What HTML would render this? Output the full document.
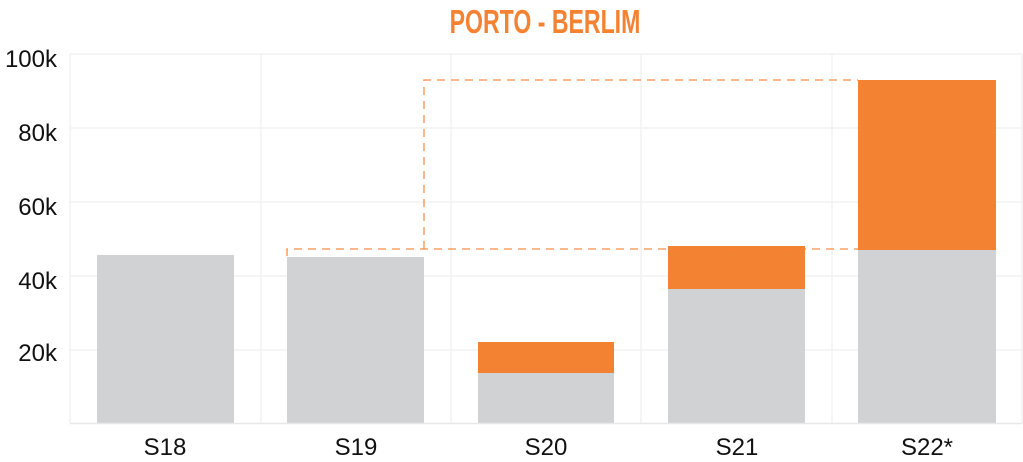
<!DOCTYPE html>
<html><head><style>
html,body{margin:0;padding:0;background:#fff;}
svg{display:block;}
text{font-family:"Liberation Sans",sans-serif;}
</style></head><body>
<svg width="1023" height="462" viewBox="0 0 1023 462" xmlns="http://www.w3.org/2000/svg">
<text x="545" y="33" text-anchor="middle" font-size="33" font-weight="bold" fill="#f48233" transform="translate(545,0) scale(0.7,1) translate(-545,0)">PORTO - BERLIM</text>
<g stroke="#f2f2f2" stroke-width="1.5" fill="none">
<line x1="70" y1="54" x2="1022" y2="54"/>
<line x1="70" y1="128" x2="1022" y2="128"/>
<line x1="70" y1="202" x2="1022" y2="202"/>
<line x1="70" y1="276" x2="1022" y2="276"/>
<line x1="70" y1="350" x2="1022" y2="350"/>
<line x1="70" y1="54" x2="70" y2="423"/>
<line x1="261" y1="54" x2="261" y2="423"/>
<line x1="451" y1="54" x2="451" y2="423"/>
<line x1="641" y1="54" x2="641" y2="423"/>
<line x1="832" y1="54" x2="832" y2="423"/>
<line x1="1022" y1="54" x2="1022" y2="423"/>
</g>
<g fill="#d1d2d4">
<rect x="97" y="255" width="137" height="168"/>
<rect x="287" y="257" width="137" height="166"/>
<rect x="478" y="373" width="136" height="50"/>
<rect x="668" y="289" width="137" height="134"/>
<rect x="858" y="250" width="138" height="173"/>
</g>
<g fill="#f48233">
<rect x="478" y="342" width="136" height="31"/>
<rect x="668" y="246" width="137" height="43"/>
<rect x="858" y="80" width="138" height="170"/>
</g>
<line x1="70" y1="423.5" x2="1022" y2="423.5" stroke="#e8e8e8" stroke-width="1.5"/>
<g stroke="#f48233" stroke-width="1.3" fill="none" stroke-dasharray="8,6" opacity="0.9">
<polyline points="287,256 287,249 858,249"/>
<polyline points="424,249 424,80 858,80"/>
</g>
<g font-size="24" fill="#111" text-anchor="end">
<text x="57" y="67">100k</text>
<text x="57" y="141">80k</text>
<text x="57" y="215">60k</text>
<text x="57" y="289">40k</text>
<text x="57" y="361">20k</text>
</g>
<g font-size="24" fill="#111" text-anchor="middle">
<text x="165" y="455">S18</text>
<text x="356" y="455">S19</text>
<text x="546" y="455">S20</text>
<text x="737" y="455">S21</text>
<text x="927" y="455">S22*</text>
</g>
</svg>
</body></html>
